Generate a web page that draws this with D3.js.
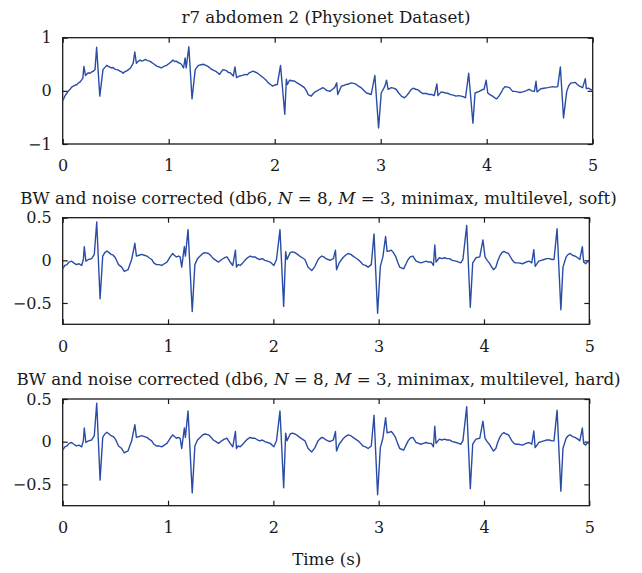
<!DOCTYPE html>
<html>
<head>
<meta charset="utf-8">
<script src="https://cdn.jsdelivr.net/npm/d3@7"></script>
<style>
body { margin: 0; background: #fff; }
</style>
</head>
<body>
<script>
// [time (s), amplitude]
var rawSignal = [
	[0,-0.19],[0.02,-0.10],[0.04,-0.04],[0.055,0.0],[0.07,0.03],[0.085,0.07],[0.10,0.09],[0.12,0.11],[0.135,0.12],[0.15,0.15],[0.165,0.17],[0.18,0.21],[0.19,0.24],
	[0.20,0.46],[0.215,0.29],[0.24,0.34],[0.255,0.33],[0.27,0.35],[0.29,0.37],[0.305,0.40],[0.32,0.82],[0.35,-0.10],[0.38,0.40],
	[0.415,0.48],[0.43,0.46],[0.44,0.45],[0.46,0.43],[0.475,0.44],[0.49,0.41],[0.51,0.40],[0.525,0.39],[0.54,0.37],[0.56,0.35],[0.57,0.33],[0.585,0.36],[0.60,0.37],
	[0.62,0.40],[0.64,0.43],[0.665,0.52],[0.68,0.73],[0.695,0.52],[0.71,0.55],[0.73,0.58],[0.745,0.56],[0.76,0.57],[0.78,0.59],[0.80,0.57],[0.82,0.56],[0.835,0.54],
	[0.85,0.52],[0.87,0.49],[0.89,0.46],[0.91,0.45],[0.93,0.43],[0.955,0.46],[0.98,0.48],[1.0,0.51],[1.02,0.54],[1.04,0.58],[1.055,0.55],[1.07,0.56],[1.09,0.53],[1.105,0.52],[1.12,0.50],
	[1.14,0.43],[1.155,0.62],[1.165,0.43],[1.19,0.83],[1.22,-0.15],[1.25,0.40],[1.28,0.48],[1.305,0.49],[1.33,0.50],[1.35,0.48],[1.37,0.46],[1.395,0.42],
	[1.42,0.39],[1.45,0.36],[1.48,0.31],[1.50,0.37],[1.515,0.40],[1.545,0.38],[1.56,0.35],[1.58,0.34],[1.61,0.28],[1.625,0.45],[1.64,0.25],
	[1.67,0.28],[1.695,0.29],[1.72,0.31],[1.74,0.30],[1.76,0.34],[1.795,0.37],[1.82,0.35],[1.84,0.33],[1.865,0.29],[1.89,0.25],[1.915,0.21],[1.94,0.15],[1.96,0.12],[1.98,0.09],[2.0,0.11],[2.025,0.12],
	[2.055,0.48],[2.095,-0.44],[2.11,0.22],[2.12,0.12],[2.14,0.20],[2.165,0.19],[2.19,0.18],[2.21,0.15],[2.235,0.12],[2.26,0.09],[2.28,0.06],[2.30,0.0],[2.315,-0.07],
	[2.345,-0.10],[2.36,-0.06],[2.38,-0.02],[2.40,0.0],[2.425,0.03],[2.455,0.06],[2.47,0.04],[2.49,0.01],[2.52,-0.01],[2.545,0.03],[2.565,0.06],[2.585,0.15],[2.595,-0.07],
	[2.63,0.09],[2.65,0.10],[2.675,0.12],[2.70,0.13],[2.72,0.15],[2.745,0.14],[2.77,0.12],[2.79,0.09],[2.815,0.06],[2.84,0.01],[2.865,-0.04],[2.885,-0.05],[2.91,-0.07],[2.945,0.29],[2.98,-0.70],
	[3.005,-0.04],[3.04,0.09],[3.055,0.20],[3.07,0.03],[3.10,0.06],[3.12,0.05],[3.145,0.03],[3.17,-0.04],[3.195,-0.10],[3.225,-0.13],[3.245,-0.09],[3.265,-0.04],
	[3.285,0.02],[3.305,0.05],[3.33,0.03],[3.35,0.02],[3.375,-0.02],[3.395,-0.05],[3.43,-0.05],[3.46,-0.07],[3.485,-0.07],[3.505,-0.09],[3.53,0.13],[3.54,-0.09],[3.57,-0.02],[3.595,-0.03],[3.615,-0.04],
	[3.64,-0.05],[3.66,-0.07],[3.685,-0.08],[3.71,-0.10],[3.735,-0.09],[3.76,-0.10],[3.78,-0.11],[3.80,-0.13],[3.83,0.33],[3.87,-0.61],[3.89,-0.04],[3.93,-0.01],[3.955,0.02],[3.975,0.03],
	[3.995,0.20],[4.01,-0.04],[4.03,-0.07],[4.055,-0.10],[4.075,-0.13],[4.095,-0.15],[4.115,-0.10],[4.135,-0.04],[4.155,0.04],[4.175,0.08],[4.195,0.07],[4.215,0.06],[4.245,-0.01],[4.265,-0.01],[4.29,-0.02],
	[4.315,-0.03],[4.34,-0.02],[4.37,0.0],[4.40,0.03],[4.425,0.0],[4.45,-0.01],[4.465,0.18],[4.475,-0.02],[4.51,0.04],[4.54,0.05],[4.575,0.06],[4.60,0.07],[4.62,0.08],[4.645,0.07],[4.67,0.08],
	[4.695,0.45],[4.725,-0.51],[4.755,-0.01],[4.775,0.10],[4.795,0.15],[4.815,0.15],[4.835,0.16],[4.855,0.12],[4.875,0.09],[4.905,0.06],[4.93,0.23],[4.94,0.04],
	[4.96,0.05],[4.98,0.03],[5.0,0.01]
];

var softSignal = [
	[0,-0.10],[0.02,-0.06],[0.04,-0.05],[0.06,-0.02],[0.085,-0.01],[0.105,-0.03],[0.13,-0.05],[0.155,-0.04],[0.18,-0.06],[0.196,0.01],[0.205,0.16],[0.22,-0.01],[0.245,0.01],
	[0.275,0.02],[0.30,0.07],[0.323,0.45],[0.355,-0.45],[0.38,0.05],[0.40,0.09],[0.42,0.11],[0.44,0.09],[0.46,0.07],[0.48,0.06],[0.50,0.03],[0.515,-0.01],[0.53,-0.05],
	[0.56,-0.08],[0.585,-0.13],[0.60,-0.12],[0.62,-0.11],[0.64,-0.04],[0.655,0.01],[0.685,0.20],[0.70,0.05],[0.725,0.06],[0.75,0.07],[0.775,0.06],[0.80,0.05],[0.82,0.03],[0.845,0.01],
	[0.865,-0.03],[0.89,-0.05],[0.915,-0.05],[0.94,-0.06],[0.965,-0.04],[0.99,-0.02],[1.02,0.04],[1.045,0.08],[1.06,0.06],[1.08,0.04],[1.10,0.05],[1.115,0.04],[1.13,-0.08],[1.155,0.16],[1.165,0.05],
	[1.19,0.36],[1.23,-0.60],[1.255,-0.05],[1.28,0.02],[1.305,0.05],[1.33,0.08],[1.35,0.09],[1.385,0.08],[1.41,0.05],[1.43,0.02],[1.455,0.0],[1.48,-0.02],[1.51,0.01],
	[1.535,0.03],[1.56,0.04],[1.575,0.01],[1.59,-0.02],[1.615,-0.06],[1.64,0.12],[1.65,-0.08],[1.665,-0.05],[1.685,-0.06],[1.71,-0.03],[1.73,0.0],[1.755,0.03],[1.78,0.05],[1.80,0.04],[1.825,0.04],
	[1.85,0.02],[1.87,0.01],[1.895,0.02],[1.92,0.0],[1.945,-0.01],[1.97,-0.02],[2.005,-0.06],[2.03,0.01],[2.063,0.36],[2.098,-0.54],[2.117,0.10],[2.13,0.01],
	[2.16,0.09],[2.18,0.10],[2.205,0.09],[2.23,0.07],[2.25,0.05],[2.275,0.03],[2.30,0.01],[2.33,-0.08],[2.365,-0.12],[2.395,-0.07],[2.425,0.01],[2.44,0.03],[2.46,0.05],
	[2.48,0.04],[2.50,0.02],[2.52,0.01],[2.536,0.0],[2.57,0.02],[2.59,0.12],[2.60,-0.11],[2.625,-0.03],[2.66,0.03],[2.685,0.06],[2.71,0.08],[2.735,0.07],[2.757,0.05],
	[2.78,0.03],[2.805,0.01],[2.83,-0.02],[2.85,-0.05],[2.875,-0.06],[2.90,-0.08],[2.93,-0.05],[2.956,0.31],[2.99,-0.62],[3.016,-0.07],[3.04,0.04],[3.066,0.28],
	[3.08,0.105],[3.10,0.11],[3.12,0.12],[3.14,0.09],[3.16,0.05],[3.18,-0.02],[3.20,-0.08],[3.237,-0.10],[3.26,-0.04],[3.28,0.01],[3.30,0.04],[3.325,0.05],[3.356,-0.01],[3.38,-0.02],[3.40,-0.03],
	[3.425,-0.02],[3.45,-0.01],[3.475,-0.02],[3.50,-0.02],[3.52,-0.06],[3.533,0.18],[3.545,-0.02],[3.577,0.03],[3.60,0.02],[3.625,0.03],[3.65,0.02],[3.672,0.02],[3.70,0.0],[3.735,-0.01],
	[3.76,-0.02],[3.78,-0.03],[3.80,0.01],[3.836,0.41],[3.87,-0.55],[3.893,-0.03],[3.924,0.03],[3.96,0.04],[3.99,0.24],[4.01,0.04],
	[4.03,0.0],[4.05,-0.03],[4.07,-0.07],[4.09,-0.11],[4.113,-0.08],[4.13,-0.01],[4.15,0.05],[4.17,0.09],[4.19,0.105],[4.21,0.09],[4.233,0.08],[4.265,0.01],[4.285,-0.02],[4.30,-0.03],[4.33,-0.03],[4.366,-0.04],
	[4.40,-0.02],[4.43,-0.01],[4.454,-0.03],[4.473,0.125],[4.486,-0.07],[4.52,-0.01],[4.545,0.0],[4.57,0.01],[4.595,0.02],[4.62,0.02],[4.645,0.01],[4.665,0.01],[4.694,0.37],
	[4.73,-0.58],[4.75,-0.08],[4.78,0.04],[4.80,0.07],[4.82,0.08],[4.84,0.06],[4.865,0.05],[4.89,0.03],[4.91,0.01],[4.934,0.16],[4.946,-0.02],[4.965,-0.04],
	[4.985,-0.01],[5.0,-0.02]
];

// hard thresholding result can't be told apart from the soft one at this size
var hardSignal = softSignal;

var timeTicks = [0, 1, 2, 3, 4, 5];
var rawTicks = [-1, 0, 1];
var bwTicks = [-0.5, 0, 0.5];
var rawDomain = [-1, 1];
var bwDomain = [-0.75, 0.5];

var titles = [
	["r7 abdomen 2 (Physionet Dataset)"],
	["BW and noise corrected (db6, ", {i: "N"}, " = 8, ", {i: "M"}, " = 3, minimax, multilevel, soft)"],
	["BW and noise corrected (db6, ", {i: "N"}, " = 8, ", {i: "M"}, " = 3, minimax, multilevel, hard)"]
];
var xlabel = "Time (s)";

var linecolor = "#2a4ca6";
var axiscolor = "#1a1a1a";
var fontfam = "'DejaVu Serif', 'Liberation Serif', serif";
var ticksize = 16;
var labelsize = 16.7;

var svg = d3.select("body")
	.append("svg")
	.attr("width", 642)
	.attr("height", 573)
	.style("font-family", fontfam)

function drawPanel(p) {
	var x = d3.scaleLinear().domain([0, 5]).range([p.left, p.right]);
	var y = d3.scaleLinear().domain(p.domain).range([p.bottom, p.top]);
	var g = svg.append("g");
	var fmt = d3.format("");

	g.append("rect")
		.attr("x", p.left)
		.attr("y", p.top)
		.attr("width", p.right - p.left)
		.attr("height", p.bottom - p.top)
		.style("fill", "none")
		.style("stroke", axiscolor)
		.style("stroke-width", 1.3)

	var ax = [
		g.append("g").attr("transform", `translate(0,${p.bottom})`)
			.call(d3.axisBottom(x).tickValues(timeTicks).tickFormat(fmt).tickSizeInner(-5).tickSizeOuter(0).tickPadding(16)),
		g.append("g").attr("transform", `translate(0,${p.top})`)
			.call(d3.axisTop(x).tickValues(timeTicks).tickFormat("").tickSizeInner(-5).tickSizeOuter(0)),
		g.append("g").attr("transform", `translate(${p.left},0)`)
			.call(d3.axisLeft(y).tickValues(p.ticks).tickFormat(fmt).tickSizeInner(-5).tickSizeOuter(0).tickPadding(11)),
		g.append("g").attr("transform", `translate(${p.right},0)`)
			.call(d3.axisRight(y).tickValues(p.ticks).tickFormat("").tickSizeInner(-5).tickSizeOuter(0))
	];
	ax.forEach(function(a) {
		a.select(".domain").remove();
		a.selectAll("line").style("stroke", axiscolor).style("stroke-width", 1.2);
		a.selectAll("text")
			.style("font-family", fontfam)
			.style("font-size", ticksize + "px")
			.style("fill", axiscolor);
	});

	var line = d3.line()
		.x(d => x(d[0]))
		.y(d => y(d[1]));
	g.append("path")
		.datum(p.data)
		.attr("d", line)
		.style("fill", "none")
		.style("stroke", linecolor)
		.style("stroke-width", 1.4)
		.style("stroke-linejoin", "round")

	var t = g.append("text")
		.attr("x", p.titleX)
		.attr("y", p.titleY)
		.attr("text-anchor", "middle")
		.style("font-size", labelsize + "px")
		.style("fill", axiscolor)
	p.title.forEach(function(part) {
		if (typeof part === "string") t.append("tspan").text(part);
		else t.append("tspan").style("font-style", "italic").text(part.i);
	});
}

var panels = [
	{data: rawSignal, domain: rawDomain, ticks: rawTicks, title: titles[0],
		left: 62.7, right: 592.7, top: 37.7, bottom: 144, titleX: 326, titleY: 22.5},
	{data: softSignal, domain: bwDomain, ticks: bwTicks, title: titles[1],
		left: 62.7, right: 589.3, top: 217.7, bottom: 324.3, titleX: 318.5, titleY: 204},
	{data: hardSignal, domain: bwDomain, ticks: bwTicks, title: titles[2],
		left: 62.7, right: 589.3, top: 399, bottom: 505.7, titleX: 318.5, titleY: 385.3}
];
panels.forEach(drawPanel);

svg.append("text")
	.attr("x", 326.7)
	.attr("y", 565)
	.attr("text-anchor", "middle")
	.style("font-size", labelsize + "px")
	.style("fill", axiscolor)
	.text(xlabel)
</script>
</body>
</html>
